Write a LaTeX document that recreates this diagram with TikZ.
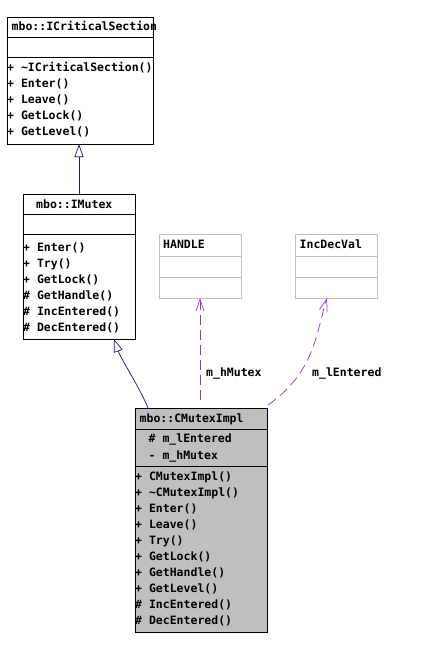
\documentclass[tikz,border=0pt]{standalone}
\usepackage{fontspec}
\newfontfamily\dx{DejaVu Sans Mono}
\usetikzlibrary{arrows.meta,calc}
\definecolor{edgeblue}{HTML}{191970}
\definecolor{usepurple}{HTML}{9A32CD}
\definecolor{boxgray}{HTML}{BFBFBF}
\begin{document}
\begin{tikzpicture}[x=1pt,y=-1pt,
  cls/.style={draw=black, line width=0.8pt, anchor=north west, inner sep=0pt, outer sep=0pt},
  ext/.style={draw=boxgray, line width=0.8pt, anchor=north west, inner sep=0pt, outer sep=0pt},
  mem/.style={anchor=base west, inner sep=0pt, font=\dx\bfseries\fontsize{11.5}{14}\selectfont},
  sepl/.style={line width=0.8pt},
  inh/.style={draw=edgeblue, line width=0.7pt, -{Triangle[open, length=13pt, width=9pt, fill=white]}},
  uses/.style={draw=usepurple, line width=0.7pt, dash pattern=on 10pt off 5pt, -{Straight Barb[length=12pt,width=8pt]}}]
\useasboundingbox (0,0) rectangle (433,649);

% ---- mbo::ICriticalSection
\node[cls, minimum width=146pt, minimum height=127pt] (ics) at (7,17) {};
\draw[sepl] (7,37) -- (153,37);
\draw[sepl] (7,57) -- (153,57);
\node[mem] (icst) at (11.5,30) {mbo::ICriticalSection};
\node[mem] (ics1) at (7,71) {+ \string~ICriticalSection()};
\node[mem] (ics2) at (7,87) {+ Enter()};
\node[mem] (ics3) at (7,103) {+ Leave()};
\node[mem] (ics4) at (7,119) {+ GetLock()};
\node[mem] (ics5) at (7,135) {+ GetLevel()};

% ---- mbo::IMutex
\node[cls, minimum width=112pt, minimum height=145pt] (imx) at (23,194) {};
\draw[sepl] (23,214) -- (135,214);
\draw[sepl] (23,234) -- (135,234);
\node[mem] (imxt) at (36,208) {mbo::IMutex};
\node[mem] (imx1) at (23,251) {+ Enter()};
\node[mem] (imx2) at (23,267) {+ Try()};
\node[mem] (imx3) at (23,283) {+ GetLock()};
\node[mem] (imx4) at (23,299) {\# GetHandle()};
\node[mem] (imx5) at (23,315) {\# IncEntered()};
\node[mem] (imx6) at (23,331) {\# DecEntered()};

% ---- HANDLE
\node[ext, minimum width=82pt, minimum height=64pt] (hdl) at (159,234) {};
\draw[sepl, boxgray] (159,256) -- (241,256);
\draw[sepl, boxgray] (159,277) -- (241,277);
\node[mem] (hdlt) at (163,248) {HANDLE};

% ---- IncDecVal
\node[ext, minimum width=82pt, minimum height=64pt] (idv) at (295,234) {};
\draw[sepl, boxgray] (295,256) -- (377,256);
\draw[sepl, boxgray] (295,277) -- (377,277);
\node[mem] (idvt) at (299.5,248) {IncDecVal};

% ---- mbo::CMutexImpl
\node[cls, fill=boxgray, minimum width=132pt, minimum height=224pt] (cmi) at (135,408) {};
\draw[sepl] (135,429) -- (267,429);
\draw[sepl] (135,466) -- (267,466);
\node[mem] (cmit) at (139.5,422) {mbo::CMutexImpl};
\node[mem] (cmia1) at (148.5,442) {\# m\_lEntered};
\node[mem] (cmia2) at (148.5,459) {- m\_hMutex};
\node[mem] (cmi1) at (135,480) {+ CMutexImpl()};
\node[mem] (cmi2) at (135,496) {+ \string~CMutexImpl()};
\node[mem] (cmi3) at (135,512) {+ Enter()};
\node[mem] (cmi4) at (135,528) {+ Leave()};
\node[mem] (cmi5) at (135,544) {+ Try()};
\node[mem] (cmi6) at (135,560) {+ GetLock()};
\node[mem] (cmi7) at (135,576) {+ GetHandle()};
\node[mem] (cmi8) at (135,592) {+ GetLevel()};
\node[mem] (cmi9) at (135,608) {\# IncEntered()};
\node[mem] (cmi10) at (135,624) {\# DecEntered()};

% ---- connectors
\draw[inh] (imx.north) -- (imx.north |- ics.south);
\draw[inh] ($(cmi.north west)+(13,0)$) .. controls ($(cmi.north west)+(6,-18)$) and ($(imx.south east)+(-14,20)$) .. ($(imx.south east)+(-21,0)$);
\draw[uses] ($(cmi.north)+(-1,-8)$) -- (hdl.south);
\draw[uses] ($(cmi.north east)+(1,-3)$) .. controls (313,373) and (315,339) .. ($(idv.south)+(-9,0)$);
\node[mem] (lbl1) at (206,376) {m\_hMutex};
\node[mem] (lbl2) at (312,376) {m\_lEntered};
\end{tikzpicture}
\end{document}
